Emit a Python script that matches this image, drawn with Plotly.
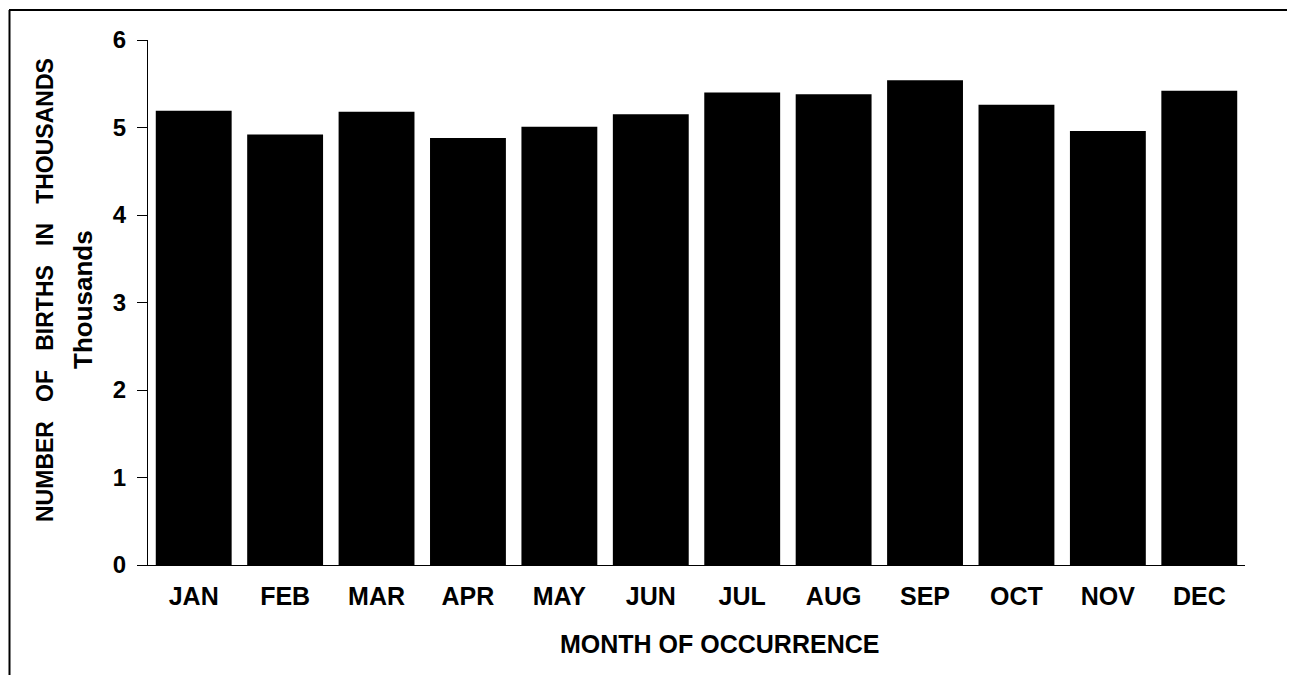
import plotly.graph_objects as go

months = ["JAN", "FEB", "MAR", "APR", "MAY", "JUN", "JUL", "AUG", "SEP", "OCT", "NOV", "DEC"]
births_thousands = [5.19, 4.92, 5.18, 4.88, 5.01, 5.15, 5.40, 5.38, 5.54, 5.26, 4.96, 5.42]
y_ticks = [0, 1, 2, 3, 4, 5, 6]

FONT = "Liberation Sans"

fig = go.Figure(go.Bar(x=months, y=births_thousands, marker=dict(color="black", line=dict(width=0))))

OFF = 8  # page body margin of the html page
W, H = 1295 - OFF, 675 - OFF
L, R, T, B = 148 - OFF, 50, 40 - OFF, 110
pw, ph = W - L - R, H - T - B

def px(x):  # page pixel x -> paper x
    return (x - OFF - L) / pw

def py(y):  # page pixel y -> paper y
    return (H - B - (y - OFF)) / ph

nb = "\u00a0"
line1 = nb * 3
ytitle1 = line1.join(["NUMBER", "OF", "BIRTHS", "IN", "THOUSANDS"])

fig.update_layout(
    width=W, height=H,
    margin=dict(l=L, r=R, t=T, b=B),
    paper_bgcolor="white", plot_bgcolor="white",
    bargap=0.17,
    showlegend=False,
    font=dict(family=FONT, color="black"),
    xaxis=dict(
        showline=True, linecolor="black", linewidth=1,
        ticks="", showgrid=False,
        tickfont=dict(family=FONT, size=25, color="black", weight="bold"),
        ticklabelstandoff=9,
    ),
    yaxis=dict(
        range=[0, 6], tickvals=y_ticks,
        showline=True, linecolor="black", linewidth=1,
        ticks="outside", ticklen=10, tickcolor="black", tickwidth=1,
        showgrid=False, zeroline=False,
        tickfont=dict(family=FONT, size=24, color="black", weight="bold"),
        ticklabelstandoff=6,
    ),
)

# axis titles
fig.add_annotation(text="MONTH OF OCCURRENCE", xref="paper", yref="paper",
                   x=px(719), y=py(644), xanchor="center", yanchor="middle", showarrow=False,
                   font=dict(family=FONT, size=25, color="black", weight="bold"))
fig.add_annotation(text=ytitle1, xref="paper", yref="paper", textangle=-90,
                   x=px(45), y=py(290), xanchor="center", yanchor="middle", showarrow=False,
                   font=dict(family=FONT, size=23, color="black", weight="bold"))
fig.add_annotation(text="Thousands", xref="paper", yref="paper", textangle=-90,
                   x=px(83), y=py(300), xanchor="center", yanchor="middle", showarrow=False,
                   font=dict(family=FONT, size=26, color="black", weight="bold"))

# outer frame of the figure
fig.add_shape(type="line", xref="paper", yref="paper",
              x0=px(9), x1=px(1293), y0=py(10), y1=py(10),
              line=dict(color="black", width=2))
fig.add_shape(type="line", xref="paper", yref="paper",
              x0=px(9.5), x1=px(9.5), y0=py(10), y1=py(690),
              line=dict(color="black", width=2))
fig.add_shape(type="line", xref="paper", yref="paper",
              x0=px(1292), x1=px(1292), y0=py(10), y1=py(360),
              line=dict(color="#888888", width=1))

fig.write_html("out.html")
